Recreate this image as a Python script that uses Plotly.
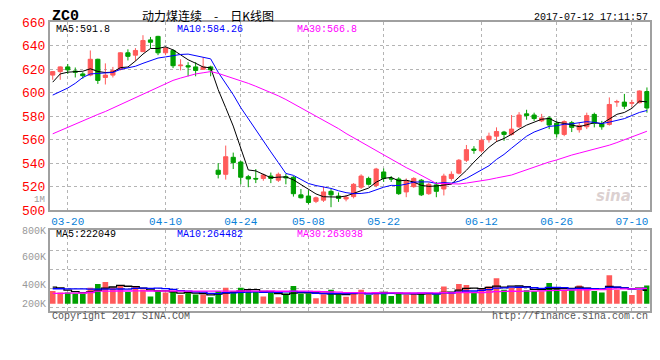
import plotly.graph_objects as go
import pandas as pd

# ---------------- data ----------------
dates = ["03-16","03-17","03-20","03-21","03-22","03-23","03-24","03-27","03-28","03-29",
         "03-30","03-31","04-05","04-06","04-07","04-10","04-11","04-12","04-13","04-14",
         "04-17","04-18","04-19","04-20","04-21","04-24","04-25","04-26","04-27","04-28",
         "05-02","05-03","05-04","05-05","05-08","05-09","05-10","05-11","05-12","05-15",
         "05-16","05-17","05-18","05-19","05-22","05-23","05-24","05-25","05-26","05-31",
         "06-01","06-02","06-05","06-06","06-07","06-08","06-09","06-12","06-13","06-14",
         "06-15","06-16","06-19","06-20","06-21","06-22","06-23","06-26","06-27","06-28",
         "06-29","06-30","07-03","07-04","07-05","07-06","07-07","07-10","07-11","07-12"]

opens = [615, 618, 622, 618.5, 616, 615, 628.5, 613, 615, 620,
         634, 632, 635, 645, 648, 634, 636, 623, 623, 622,
         620, 622, 534, 530.5, 545, 541, 528.5, 527, 527, 529,
         525.5, 528.5, 528, 513, 512, 507.5, 508.5, 516, 512, 509.5,
         511.5, 519.5, 527, 521, 532.5, 527, 526.5, 515.5, 520, 525.5,
         514, 521.5, 518, 527, 531.5, 542.5, 552, 550.5, 560, 563,
         566.5, 564.5, 571, 582, 581, 576, 578.5, 574, 564.5, 574.5,
         568.5, 571, 581.5, 573.5, 573, 592, 592, 591, 591.5, 601]
highs = [618.5, 622.5, 624.5, 621.5, 617.5, 636, 629, 625, 622, 634.5,
         637, 638, 649, 647.5, 648.5, 639, 637, 628.5, 626, 626,
         630, 623, 540, 555, 549, 542, 530, 535, 531, 532,
         532, 531, 529, 518, 517, 511.5, 520, 518, 515, 513,
         523, 530.5, 528.5, 536, 535.5, 529, 528, 527, 528, 526.5,
         523.5, 524, 531, 533, 543.5, 555.5, 554.5, 561, 566, 570.5,
         567.5, 581, 583.5, 585.5, 583, 582, 580, 576, 576.5, 576,
         574.5, 583, 583, 576, 596, 594, 599, 594, 602, 604.5]
lows = [611, 611, 616, 613, 612, 614, 607.5, 607, 613, 619,
        627.5, 627, 635, 638, 632, 632, 621, 619, 614, 614,
        619.5, 614, 527, 526, 535, 522, 519.5, 523, 525, 523,
        524, 522, 511.5, 510, 505, 506, 507, 502.5, 507, 507.5,
        510, 518, 521, 519.5, 524, 524, 513, 511, 519, 512,
        513, 511, 512.5, 525, 530.5, 541, 548, 549, 557.5, 558,
        559, 563.5, 570, 577, 576, 575, 569, 562, 563, 566.5,
        566, 569, 570.5, 568.5, 572, 588, 586, 588, 591, 583]
closes = [618, 622, 619.5, 617.5, 614.5, 628.5, 610.5, 615, 619, 634,
          631, 636, 644.5, 643, 634, 638, 623, 623.5, 622, 619,
          622, 619.5, 530.5, 545.5, 540.5, 528, 526.5, 526.5, 530, 527,
          530.5, 527.5, 514, 510.5, 506.5, 510.5, 515.5, 513, 510, 511,
          522, 529, 522, 535, 527, 526.5, 514, 525, 527, 513,
          522, 516, 529, 530.5, 542.5, 551.5, 551, 559.5, 563, 567,
          564.5, 569, 581, 580.5, 578, 578.5, 572.5, 565, 575.5, 570.5,
          572, 580.5, 574, 571, 590, 592.5, 588.5, 591.5, 601.5, 587]
volumes = [216000, 189000, 189000, 173000, 173000, 270000, 335000, 367000, 270000, 308000,
           200000, 302000, 243000, 124000, 227000, 189000, 216000, 146000, 189000, 157000,
           157000, 108000, 211000, 270000, 211000, 270000, 238000, 200000, 124000, 189000,
           108000, 173000, 302000, 173000, 173000, 92000, 162000, 238000, 157000, 119000,
           189000, 238000, 146000, 200000, 189000, 130000, 189000, 157000, 173000, 173000,
           173000, 157000, 292000, 189000, 335000, 319000, 189000, 254000, 292000, 432000,
           238000, 270000, 270000, 227000, 211000, 211000, 351000, 270000, 238000, 238000,
           308000, 270000, 216000, 189000, 481000, 238000, 211000, 146000, 238000, 308000]

# moving-average values before enough history is visible
ma5_head = [609, 616, 617.5, 618]
ma10_head = [598, 601, 604, 608, 613, 616, 616.5, 617, 617.3]
ma30_head = [565, 567.8, 570.6, 573.5, 576, 579, 581.5, 584, 587, 590,
             593, 596, 599, 602, 605, 608, 610.5, 612.5, 614.5, 616,
             617, 618, 616.5, 614.5, 612, 610, 608, 605.5, 603]
vma5_head = [281000, 270000, 232000, 205000]
vma10_head = [254000, 254000, 252000, 250000, 250000, 248000, 247000, 247000, 248000]
vma30_head = [175000, 176000, 178000, 180000, 182000, 190000, 212000, 214000, 215000, 216000,
              216000, 217000, 217000, 216000, 216000, 216000, 216000, 215000, 215000, 214000,
              214000, 213000, 214000, 215000, 215000, 216000, 216000, 215000, 215000]

date_ticks = ["03-20", "04-10", "04-24", "05-08", "05-22", "06-12", "06-26", "07-10"]
price_ticks = [500, 520, 540, 560, 580, 600, 620, 640, 660]
vol_tick_text = ["200K", "400K", "600K", "800K"]

title_code = "ZC0"
title_name = "动力煤连续\u2003-\u2003日K线图"
timestamp = "2017-07-12 17:11:57"
price_ma_labels = ["MA5:591.8", "MA10:584.26", "MA30:566.8"]
vol_ma_labels = ["MA5:222049", "MA10:264482", "MA30:263038"]


def moving_avg(values, n, head):
    s = pd.Series(values, dtype=float).rolling(n).mean().tolist()
    return list(head) + s[n - 1:]


ma5 = moving_avg(closes, 5, ma5_head)
ma10 = moving_avg(closes, 10, ma10_head)
ma30 = moving_avg(closes, 30, ma30_head)
vma5 = moving_avg(volumes, 5, vma5_head)
vma10 = moving_avg(volumes, 10, vma10_head)
vma30 = moving_avg(volumes, 30, vma30_head)

# ---------------- style ----------------
W, H = 660, 360
RED = "#ff5a5a"
GREEN = "#00a000"
MA_COLORS = ["#000000", "#0000ff", "#ff00ff"]
GRID = "#b4b4b4"
BORDER = "#a0a0a0"
MONO = "Liberation Mono, DejaVu Sans Mono, monospace"
CJK = "Noto Sans CJK SC, sans-serif"


def fx(p):
    return p / W


def fy(p):
    return 1 - p / H


# volume scale: 0 at the bar base, ~16.2K per pixel
VOL_PER_PX = 16200
vol_range = [-7.3 * VOL_PER_PX, 76.7 * VOL_PER_PX]
vol_tick_vals = [0.7 * VOL_PER_PX, 20.0 * VOL_PER_PX, 49.0 * VOL_PER_PX, 76.5 * VOL_PER_PX]

fig = go.Figure()

fig.add_trace(go.Candlestick(
    x=dates, open=opens, high=highs, low=lows, close=closes,
    increasing=dict(line=dict(color=RED, width=1), fillcolor=RED),
    decreasing=dict(line=dict(color=GREEN, width=1), fillcolor=GREEN),
    whiskerwidth=0, xaxis="x", yaxis="y", hoverinfo="skip"))

for vals, col in zip([ma5, ma10, ma30], MA_COLORS):
    fig.add_trace(go.Scatter(x=dates, y=vals, mode="lines",
                             line=dict(color=col, width=1), xaxis="x", yaxis="y",
                             hoverinfo="skip"))

bar_colors = [RED if c >= o else GREEN for o, c in zip(opens, closes)]
fig.add_trace(go.Bar(x=dates, y=volumes, marker=dict(color=bar_colors, line=dict(width=0)),
                     xaxis="x2", yaxis="y2", hoverinfo="skip"))

for vals, col in zip([vma5, vma10, vma30], MA_COLORS):
    fig.add_trace(go.Scatter(x=dates, y=vals, mode="lines", line_shape="hvh",
                             line=dict(color=col, width=1.3), xaxis="x2", yaxis="y3",
                             hoverinfo="skip"))

xdom = [fx(50), fx(649.5)]
xrange_ = [-0.36, len(dates) - 1 + 0.34]

fig.update_layout(
    width=W, height=H, autosize=False, margin=dict(l=0, r=0, t=0, b=0, pad=0),
    paper_bgcolor="white", plot_bgcolor="white", showlegend=False,
    bargap=0.25, boxgap=0.2,
    xaxis=dict(domain=xdom, anchor="y", type="category", range=xrange_,
               tickmode="array", tickvals=date_ticks, ticks="",
               tickfont=dict(family=MONO, size=11, color="#0a7fd8"),
               showgrid=True, griddash="dot", gridcolor=GRID, gridwidth=1,
               showline=True, linecolor=BORDER, linewidth=2, mirror=True,
               rangeslider=dict(visible=False), fixedrange=True),
    yaxis=dict(domain=[fy(213), fy(17)], anchor="x", range=[500, 660],
               tickmode="array", tickvals=price_ticks, ticks="",
               tickfont=dict(family=MONO, size=13, color="#ff0000"),
               showgrid=True, griddash="dot", gridcolor=GRID, gridwidth=1,
               zeroline=False, showline=True, linecolor=BORDER, linewidth=2, mirror=True,
               fixedrange=True),
    xaxis2=dict(domain=xdom, anchor="y2", type="category", matches="x",
                tickmode="array", tickvals=date_ticks, showticklabels=False, ticks="",
                showgrid=True, griddash="dot", gridcolor=GRID, gridwidth=1,
                showline=True, linecolor=BORDER, linewidth=2, mirror=True,
                fixedrange=True),
    yaxis2=dict(domain=[fy(318), fy(234)], anchor="x2", range=vol_range,
                tickmode="array", tickvals=vol_tick_vals, ticktext=vol_tick_text, ticks="",
                tickfont=dict(family=MONO, size=10, color="#999999"),
                showgrid=False, zeroline=False,
                showline=True, linecolor=BORDER, linewidth=2, mirror=True, fixedrange=True),
    yaxis3=dict(overlaying="y2", anchor="x2", range=vol_range,
                tickmode="linear", tick0=15.7 * VOL_PER_PX, dtick=20 * VOL_PER_PX,
                showticklabels=False, ticks="", showgrid=True, griddash="dot",
                gridcolor=GRID, gridwidth=1, zeroline=False, showline=False,
                fixedrange=True),
)

ann = []
ann.append(dict(text="<b>" + title_code + "</b>", x=fx(50), y=fy(10.5), xanchor="left",
                font=dict(family=MONO, size=15, color="#000")))
ann.append(dict(text=title_name, x=fx(140), y=fy(10), xanchor="left",
                font=dict(family=CJK, size=12, color="#000")))
ann.append(dict(text=timestamp, x=fx(650), y=fy(11.5), xanchor="right",
                font=dict(family=MONO, size=10, color="#000")))
for txt, col, xpx in zip(price_ma_labels, MA_COLORS, [54, 175, 295]):
    ann.append(dict(text=txt, x=fx(xpx), y=fy(25), xanchor="left",
                    font=dict(family=MONO, size=10, color=col)))
for txt, col, xpx in zip(vol_ma_labels, MA_COLORS, [54, 175, 295]):
    ann.append(dict(text=txt, x=fx(xpx), y=fy(238.5), xanchor="left",
                    font=dict(family=MONO, size=10, color=col)))
ann.append(dict(text="1M", x=fx(46.5), y=fy(202.5), xanchor="right",
                font=dict(family=MONO, size=9, color="#999999")))
ann.append(dict(text="Copyright 2017 SINA.COM", x=fx(50), y=fy(324), xanchor="left",
                font=dict(family=MONO, size=10, color="#555555")))
ann.append(dict(text="http://finance.sina.com.cn", x=fx(650), y=fy(324), xanchor="right",
                font=dict(family=MONO, size=10, color="#555555")))
ann.append(dict(text="<b><i>sina</i></b>", x=fx(633), y=fy(198),
                font=dict(family="DejaVu Sans", size=15, color="rgba(190,170,170,0.55)")))
for a in ann:
    a.update(xref="paper", yref="paper", yanchor="middle", showarrow=False)
fig.update_layout(annotations=ann)

fig.write_html(
    "out.html",
    config={"displayModeBar": False, "responsive": False, "staticPlot": True},
    post_script=("document.body.style.margin='0';document.body.style.overflow='hidden';"
                 "var gd=document.getElementById('{plot_id}');"
                 "gd.style.width='660px';gd.style.height='360px';"
                 "Plotly.relayout(gd,{width:660,height:360,autosize:false});"),
)
